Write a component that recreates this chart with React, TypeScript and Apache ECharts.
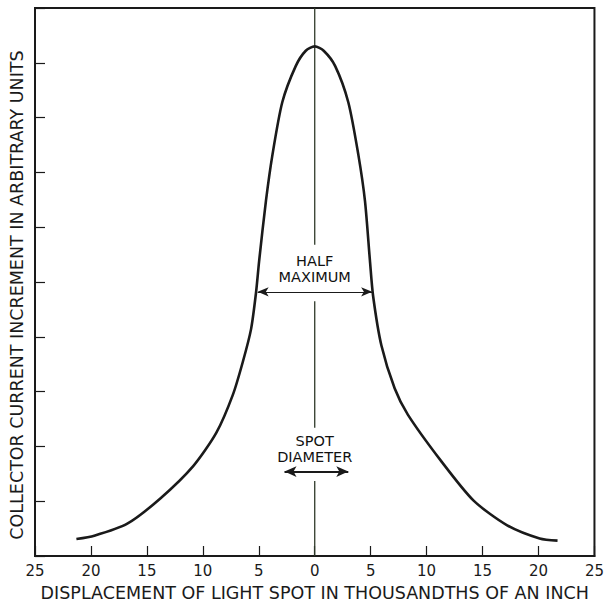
import React, { useEffect, useRef } from "react";
import * as echarts from "echarts";

const curveX = [-21.3, -19.7, -16.75, -13.8, -10.86, -8.79, -7.32, -6.43, -5.69, -5.25, -4.96, -4.36, -3.78, -2.9, -1.7, -0.8, 0, 0.8, 1.83, 3.0, 3.9, 4.49, 4.93, 5.22, 5.96, 7.14, 8.32, 11.27, 14.2, 17.2, 20.1, 21.7];
const curveY = [0.31, 0.37, 0.59, 1.05, 1.64, 2.25, 2.94, 3.54, 4.14, 4.8, 5.4, 6.48, 7.32, 8.28, 8.94, 9.22, 9.3, 9.22, 8.94, 8.28, 7.32, 6.48, 5.4, 4.74, 3.84, 3.06, 2.58, 1.74, 1.01, 0.56, 0.32, 0.28];

const halfMaxRange = [-5.1, 5.13];
const halfMaxLevel = 4.82;
const spotRange = [-2.7, 3.0];
const spotLevel = 1.54;
const centerLineSegments = [[10, 5.68], [4.65, 2.34], [1.37, 0]];

const xTitle = "DISPLACEMENT OF LIGHT SPOT IN THOUSANDTHS OF AN INCH";
const yTitle = "COLLECTOR CURRENT INCREMENT IN ARBITRARY UNITS";

const FONT = "DejaVu Sans";
const INK = "#1a1a1a";

export default function App() {
  const ref = useRef<HTMLDivElement>(null);
  useEffect(() => {
    const chart = echarts.init(ref.current!, null, { renderer: "svg" });
    const centerData: any[] = [];
    centerLineSegments.forEach((s, i) => {
      if (i > 0) centerData.push([0, "-"]);
      centerData.push([0, s[0]]);
      centerData.push([0, s[1]]);
    });
    chart.setOption({
      animation: false,
      backgroundColor: "#fff",
      grid: { left: 33, right: 9, top: 8, bottom: 44, show: true, borderColor: INK, borderWidth: 2, backgroundColor: "transparent" },
      xAxis: {
        type: "value", min: -25, max: 25, interval: 5,
        name: xTitle, nameLocation: "middle", nameGap: 28,
        nameTextStyle: { fontFamily: FONT, fontSize: 17.5, color: INK },
        axisLine: { show: true, onZero: false, lineStyle: { color: INK, width: 2 } },
        axisTick: { show: true, inside: true, length: 10, lineStyle: { color: INK, width: 1.2 } },
        axisLabel: { formatter: (v: number) => String(Math.abs(v)), fontFamily: FONT, fontSize: 15, color: INK, margin: 7 },
        splitLine: { show: false },
      },
      yAxis: {
        type: "value", min: 0, max: 10, interval: 1,
        name: yTitle, nameLocation: "middle", nameGap: 9,
        nameTextStyle: { fontFamily: FONT, fontSize: 17.5, color: INK, padding: [0, 26, 0, 0] },
        axisLine: { show: true, onZero: false, lineStyle: { color: INK, width: 2 } },
        axisTick: { show: true, inside: true, length: 10, lineStyle: { color: INK, width: 1.2 } },
        axisLabel: { show: false },
        splitLine: { show: false },
      },
      series: [
        {
          type: "line", data: centerData, showSymbol: false, connectNulls: false,
          lineStyle: { color: "#2f3a2a", width: 1.3 }, z: 1,
        },
        {
          type: "line", data: curveX.map((x, i) => [x, curveY[i]]), smooth: 0.25, showSymbol: false,
          lineStyle: { color: INK, width: 2.6 }, z: 3,
        },
        {
          type: "line", data: [], z: 2,
          markLine: {
            silent: true, symbol: ["arrow", "arrow"], symbolSize: [7, 11], label: { show: false },
            lineStyle: { color: INK, width: 1, type: "solid" },
            data: [[{ coord: [halfMaxRange[0], halfMaxLevel] }, { coord: [halfMaxRange[1], halfMaxLevel] }]],
          },
        },
        {
          type: "line", data: [], z: 2,
          markLine: {
            silent: true, symbol: ["arrow", "arrow"], symbolSize: [8, 12], label: { show: false },
            lineStyle: { color: INK, width: 2, type: "solid" },
            data: [[{ coord: [spotRange[0], spotLevel] }, { coord: [spotRange[1], spotLevel] }]],
          },
        },
        {
          type: "scatter", symbolSize: 0, z: 4, silent: true,
          itemStyle: { color: INK, opacity: 1 },
          data: [
            { value: [0, 5.24], name: "HALF\nMAXIMUM" },
            { value: [0, 1.95], name: "SPOT\nDIAMETER" },
          ],
          label: {
            show: true, position: [0, 0], formatter: (p: any) => p.name,
            fontFamily: FONT, fontSize: 14.5, lineHeight: 16, color: "#111", opacity: 1,
            align: "center", verticalAlign: "middle", textBorderWidth: 0,
          },
        },
      ],
    });
    return () => chart.dispose();
  }, []);
  return <div ref={ref} style={{ width: 607, height: 607, position: "absolute", left: 0, top: 0 }} />;
}
